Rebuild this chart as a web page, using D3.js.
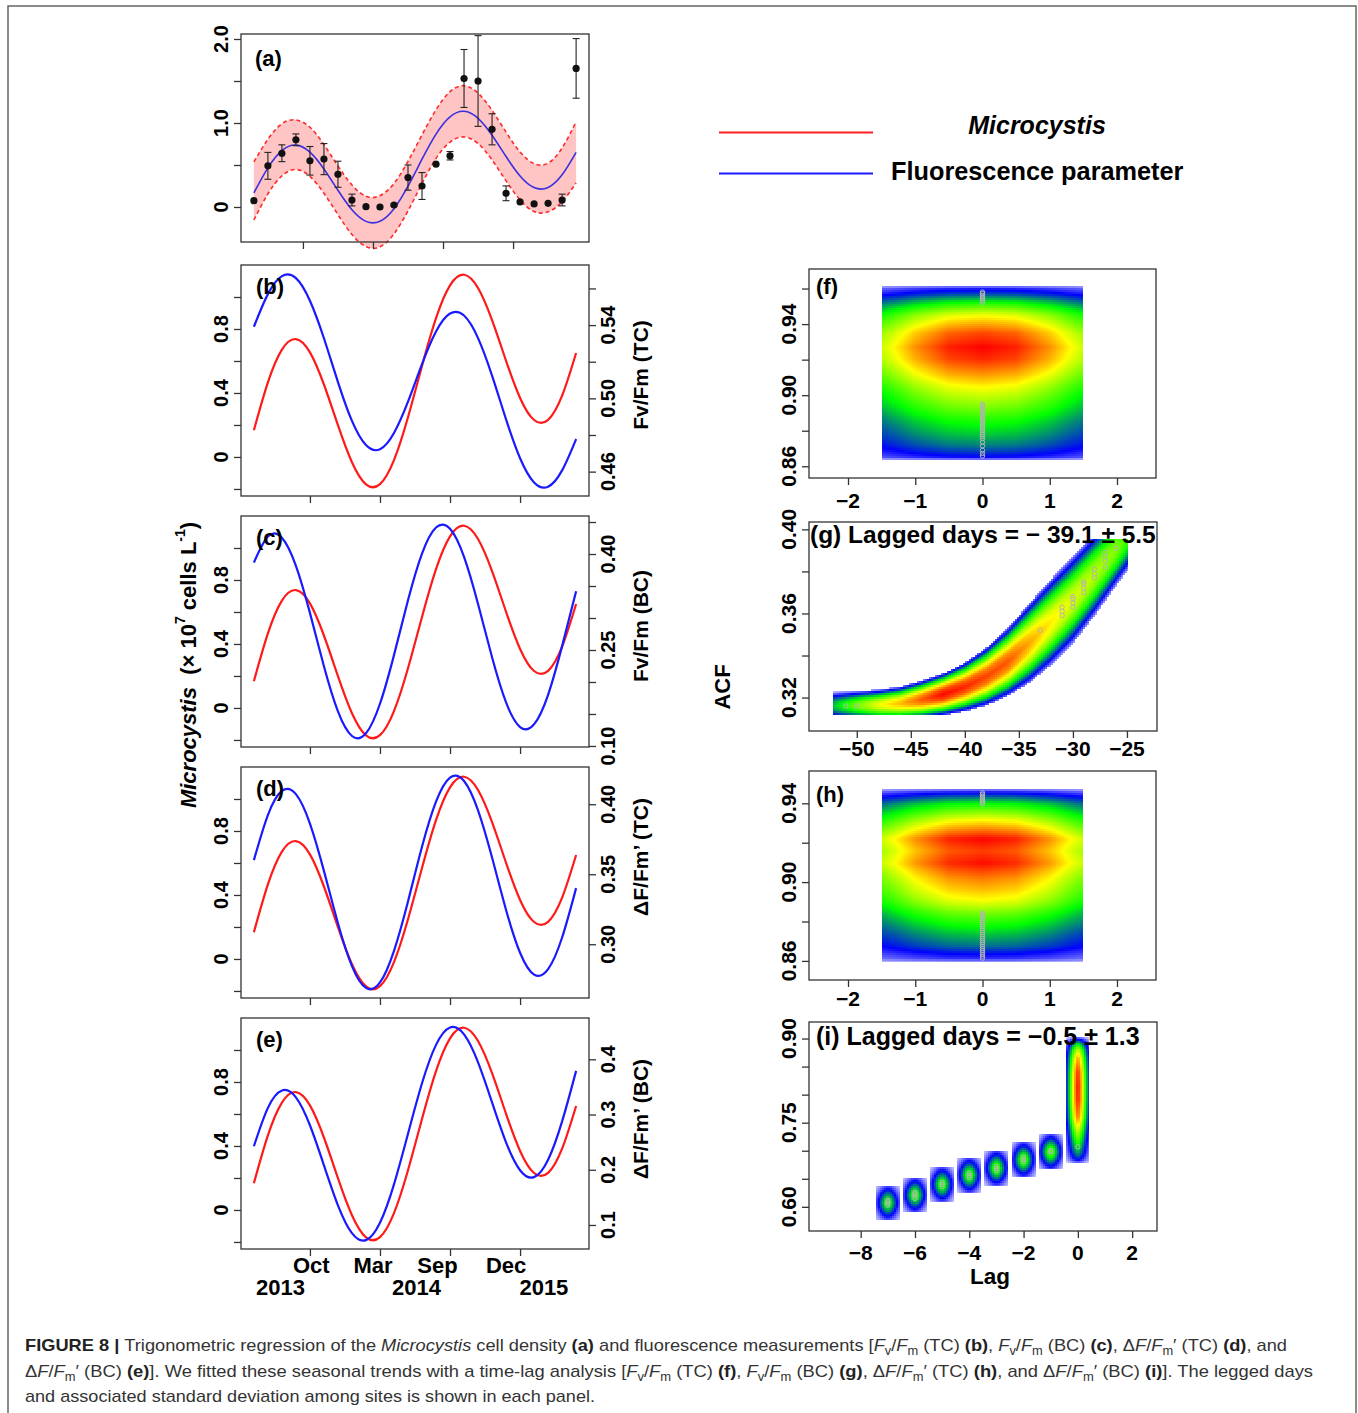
<!DOCTYPE html>
<html>
<head>
<meta charset="utf-8">
<title>Figure 8</title>
<script src="https://cdn.jsdelivr.net/npm/d3@7/dist/d3.min.js"></script>
<style>
  body { margin: 0; background: #fff; }
  svg { display: block; }
</style>
</head>
<body>
<svg id="fig" width="1358" height="1413"></svg>
<script>
// ---------------- data ----------------
// monthly sampling index
const monthIdx = [1,2,3,4,5,6,7,8,9,10,11,12,13,14,15,16,17,18,19,20,21,22,23,24];

// (a) Microcystis density (x 10^7 cells/L): observed means, sd, fitted curve and band
const cellObs = [0.075,0.49,0.64,0.80,0.55,0.57,0.39,0.083,0.004,0.0,0.024,0.35,0.25,0.51,0.61,1.53,1.50,0.925,0.163,0.06,0.036,0.044,0.083,1.65];
const cellSd  = [0,0.16,0.10,0.07,0.17,0.185,0.155,0.07,0,0,0.012,0.15,0.16,0,0.05,0.345,0.54,0.185,0.088,0,0,0,0.07,0.355];
const cellFit = [0.167,0.466,0.671,0.737,0.654,0.453,0.199,-0.033,-0.171,-0.170,-0.020,0.248,0.569,0.868,1.073,1.139,1.056,0.855,0.601,0.369,0.231,0.232,0.383,0.650];
const cellUpper = [0.537,0.806,0.991,1.037,0.949,0.743,0.489,0.262,0.129,0.135,0.280,0.543,0.859,1.158,1.373,1.444,1.356,1.150,0.891,0.654,0.516,0.522,0.703,1.015];
const cellLower = [-0.155,0.156,0.371,0.447,0.364,0.163,-0.091,-0.328,-0.471,-0.475,-0.320,-0.047,0.279,0.578,0.773,0.834,0.756,0.560,0.311,0.084,-0.054,-0.058,0.063,0.286];

// (b)-(e) fitted fluorescence parameters
const fvfmTC = [0.5391,0.5569,0.5667,0.5656,0.5533,0.5328,0.5089,0.4877,0.4745,0.4722,0.4811,0.4982,0.5187,0.5365,0.5463,0.5452,0.5329,0.5124,0.4885,0.4673,0.4541,0.4518,0.4607,0.4778];
const fvfmBC = [0.3866,0.4273,0.4254,0.3816,0.3080,0.2245,0.1540,0.1156,0.1198,0.1660,0.2420,0.3277,0.4006,0.4414,0.4395,0.3956,0.3220,0.2386,0.1680,0.1296,0.1339,0.1800,0.2560,0.3418];
const dffmTC = [0.3601,0.3923,0.4095,0.4072,0.3862,0.3524,0.3150,0.2844,0.2688,0.2727,0.2953,0.3306,0.3696,0.4018,0.4190,0.4166,0.3956,0.3619,0.3245,0.2939,0.2783,0.2822,0.3048,0.3401];
const dffmBC = [0.2426,0.3121,0.3436,0.3311,0.2806,0.2081,0.1356,0.0851,0.0726,0.1041,0.1736,0.2651,0.3566,0.4261,0.4576,0.4451,0.3946,0.3221,0.2496,0.1991,0.1866,0.2181,0.2876,0.3791];

// ticks / labels of the time-series panels
const aTicksX = [4.5, 9.5, 14.5, 19.5];
const lowTicksX = [5, 10, 15, 20];
const aTicksY = [0, 0.5, 1.0, 1.5, 2.0];
const aLabsY = [0, 1.0, 2.0];
const leftTicksY = [-0.2, 0, 0.2, 0.4, 0.6, 0.8, 1.0];
const leftLabsY = [0, 0.4, 0.8];
const rTicksB = [0.46, 0.48, 0.50, 0.52, 0.54, 0.56], rLabsB = [0.46, 0.50, 0.54];
const rTicksC = [0.10, 0.15, 0.20, 0.25, 0.30, 0.35, 0.40, 0.45], rLabsC = [0.10, 0.25, 0.40];
const rTicksD = [0.30, 0.35, 0.40], rLabsD = [0.30, 0.35, 0.40];
const rTicksE = [0.1, 0.2, 0.3, 0.4], rLabsE = [0.1, 0.2, 0.3, 0.4];
const monthLabs = ["Oct", "Mar", "Sep", "Dec"], monthPos = [5.1, 9.5, 14.1, 19.0];
const yearLabs = ["2013", "2014", "2015"], yearPos = [2.9, 12.6, 21.7];

// (f) / (h) density: lag profile and ACF profiles
const heatLagProf = [-1.5,-1.3,-1.0,-0.5,0,0.5,1.0,1.3,1.5];
const heatLagVal  = [0.70,0.76,0.86,0.97,1,0.97,0.86,0.76,0.70];
const fAcfProf = [0.8636,0.865,0.868,0.872,0.878,0.885,0.893,0.900,0.905,0.912,0.920,0.927,0.935,0.941,0.945,0.949,0.953,0.957,0.960,0.9616];
const fAcfVal  = [0.10,0.24,0.31,0.38,0.45,0.52,0.62,0.70,0.76,0.86,0.96,1.00,0.93,0.82,0.74,0.62,0.48,0.32,0.22,0.10];
const hAcfProf = [0.8596,0.861,0.864,0.8675,0.8745,0.8833,0.8903,0.8956,0.9026,0.9096,0.9158,0.9219,0.9255,0.9316,0.936,0.940,0.9435,0.9455,0.9474];
const hAcfVal  = [0.10,0.20,0.27,0.36,0.46,0.60,0.74,0.81,0.89,0.99,0.94,1.00,0.91,0.75,0.62,0.50,0.34,0.24,0.10];
const fPtAcf = [0.9522,0.9532,0.9542,0.9552,0.9562,0.9572,0.958,0.8658,0.8672,0.869,0.8715,0.8735,0.8755,0.8767,0.8778,0.8789,0.88,0.8811,0.8822,0.8833,0.8844,0.8855,0.8866,0.8877,0.8888,0.8899,0.891,0.8921,0.8932,0.8943,0.8951];
const hPtAcf = [0.9398,0.9406,0.9414,0.9422,0.943,0.9438,0.9446,0.9453,0.8614,0.8624,0.8634,0.8644,0.8654,0.8664,0.8674,0.8684,0.8694,0.8704,0.8714,0.8724,0.8734,0.8744,0.8754,0.8764,0.8774,0.8784,0.8794,0.8804,0.8814,0.8824,0.8834,0.8842];

// (g) density ribbon along lag
const gLag    = [-52.2,-50,-48,-46,-44,-42,-40,-38,-36,-34,-32,-30,-28,-26,-24.9];
const gCenter = [0.3162,0.3163,0.3165,0.3172,0.3190,0.3215,0.3250,0.3300,0.3370,0.3460,0.3560,0.3665,0.3785,0.3905,0.3965];
const gHalf   = [0.0066,0.0069,0.0073,0.0080,0.0090,0.0100,0.0116,0.0138,0.0162,0.0190,0.0205,0.0208,0.0198,0.0175,0.0160];
const gPeak   = [0.44,0.62,0.74,0.82,0.92,1.00,0.97,0.94,0.92,0.84,0.77,0.72,0.68,0.63,0.56];
const ribU = [0,0.25,0.5,0.75,1], ribK = [1,0.93,0.75,0.47,0.14];
const gPtLag = [-51,-50,-33,-31,-31,-31,-30,-30,-30,-30,-29,-29,-29,-29,-28,-28,-28,-27,-27,-27,-27,-26];
const gPtAcf = [0.316,0.316,0.352,0.359,0.361,0.363,0.363,0.365,0.367,0.368,0.370,0.372,0.374,0.375,0.377,0.379,0.381,0.382,0.385,0.387,0.389,0.391];

// (i) density blobs
const iBlobLag  = [-7,-6,-5,-4,-3,-2,-1];
const iBlobAcf  = [0.607,0.621,0.640,0.6565,0.669,0.684,0.698];
const iBlobPeak = [0.55,0.57,0.57,0.58,0.59,0.60,0.61];
const blobU = [0,0.25,0.5,0.75,1], blobK = [1,0.9,0.7,0.48,0.3];
const iTallAcf = [0.678,0.683,0.69,0.70,0.715,0.735,0.76,0.79,0.815,0.84,0.865,0.88,0.89,0.897,0.9026];
const iTallVal = [0.12,0.25,0.35,0.45,0.55,0.70,0.90,0.99,1.00,0.97,0.85,0.70,0.50,0.30,0.12];
const iTallLag = [-0.42,-0.3,-0.15,0,0.15,0.3,0.42];
const iTallLagVal = [0.28,0.5,0.8,1,0.8,0.5,0.28];
const iPtLag = [-7,-7,-7,-7,-6,-6,-6,-6,-5,-5,-5,-4,-4,-4,-3,-3,-3,-2,-2,-2,-1,-1,0];
const iPtAcf = [0.603,0.606,0.609,0.612,0.615,0.619,0.623,0.626,0.636,0.640,0.644,0.652,0.656,0.660,0.664,0.668,0.672,0.680,0.684,0.689,0.698,0.700,0.707];

const heatStops = [0, 0.25, 0.5, 0.75, 1];
const heatColors = ["#ffffff", "#0000ff", "#00ff00", "#ffff00", "#ff0000"];

// ---------------- drawing ----------------
const svg = d3.select("#fig");
const font = "'Liberation Sans', Arial, Helvetica, sans-serif";
const ink = "#333";
const heatColor = d3.scaleLinear().domain(heatStops).range(heatColors).clamp(true);

// outer frame
svg.append("rect").attr("x", 8).attr("y", 6).attr("width", 1348).attr("height", 1440)
  .attr("fill", "none").attr("stroke", "#666").attr("stroke-width", 1.5);

function box(x0, y0, x1, y1) {
  svg.append("rect").attr("x", x0).attr("y", y0).attr("width", x1 - x0).attr("height", y1 - y0)
    .attr("fill", "none").attr("stroke", ink).attr("stroke-width", 1.3);
}
function yAxis(scale, ticks, xPos, side) {
  const ax = (side === "left" ? d3.axisLeft(scale) : d3.axisRight(scale))
    .tickValues(ticks).tickSize(7).tickFormat("");
  svg.append("g").attr("transform", "translate(" + xPos + ",0)").attr("color", ink).call(ax)
    .call(g => g.select(".domain").remove())
    .call(g => g.selectAll("line").attr("stroke-width", 1.3));
}
function xAxis(scale, ticks, yPos) {
  svg.append("g").attr("transform", "translate(0," + yPos + ")").attr("color", ink)
    .call(d3.axisBottom(scale).tickValues(ticks).tickSize(7).tickFormat(""))
    .call(g => g.select(".domain").remove())
    .call(g => g.selectAll("line").attr("stroke-width", 1.3));
}
function yLabels(scale, vals, fmt, cx, size) {
  svg.append("g").selectAll("text").data(vals).join("text")
    .attr("transform", d => "translate(" + cx + "," + scale(d) + ") rotate(-90)")
    .attr("text-anchor", "middle").attr("dominant-baseline", "central")
    .attr("font-family", font).attr("font-weight", "bold").attr("font-size", size)
    .text(fmt);
}
function xLabels(scale, vals, fmt, cy, size) {
  svg.append("g").selectAll("text").data(vals).join("text")
    .attr("x", d => scale(d)).attr("y", cy)
    .attr("text-anchor", "middle").attr("dominant-baseline", "central")
    .attr("font-family", font).attr("font-weight", "bold").attr("font-size", size)
    .text(fmt);
}
function label(txt, x, y, size, anchor) {
  return svg.append("text").attr("x", x).attr("y", y)
    .attr("text-anchor", anchor || "start").attr("dominant-baseline", "central")
    .attr("font-family", font).attr("font-weight", "bold").attr("font-size", size).text(txt);
}
function rotLabel(x, y, size) {
  return svg.append("text").attr("transform", "translate(" + x + "," + y + ") rotate(-90)")
    .attr("text-anchor", "middle").attr("dominant-baseline", "central")
    .attr("font-family", font).attr("font-weight", "bold").attr("font-size", size);
}
const fmtLeft = d => d === 0 ? "0" : d3.format(".1f")(d);

// density image rendered as small cells through the panel scales
function heat(x, y, lagExt, acfExt, dens, cell) {
  const px0 = Math.round(x(lagExt[0])), px1 = Math.round(x(lagExt[1]));
  const py0 = Math.round(y(acfExt[1])), py1 = Math.round(y(acfExt[0]));
  const cells = [];
  for (let px = px0; px < px1; px += cell) {
    for (let py = py0; py < py1; py += cell) {
      const w = Math.min(cell, px1 - px), h = Math.min(cell, py1 - py);
      const d = dens(x.invert(px + w / 2), y.invert(py + h / 2));
      if (d > 0.03) cells.push({ px, py, w, h, d });
    }
  }
  svg.append("g").attr("shape-rendering", "crispEdges")
    .selectAll("rect").data(cells).join("rect")
    .attr("x", c => c.px).attr("y", c => c.py)
    .attr("width", c => c.w).attr("height", c => c.h)
    .attr("fill", c => heatColor(c.d));
}
function grayPoints(x, y, lags, acfs) {
  svg.append("g").selectAll("circle").data(acfs).join("circle")
    .attr("cx", (d, i) => x(lags[i])).attr("cy", d => y(d)).attr("r", 2.2)
    .attr("fill", "none").attr("stroke", "#b4b4b4").attr("stroke-width", 1);
}

// ---- time series panels ----
const X = d3.scaleLinear().domain([0.08, 24.92]).range([241, 589]);

// (a)
{
  const top = 34, bot = 242;
  const y = d3.scaleLinear().domain([-0.4167, 2.0595]).range([bot, top]);
  const band = d3.area().x((d, i) => X(monthIdx[i])).y0((d, i) => y(cellLower[i])).y1(d => y(d)).curve(d3.curveNatural);
  svg.append("path").attr("d", band(cellUpper)).attr("fill", "#ffc4c4");
  const ln = d3.line().x((d, i) => X(monthIdx[i])).y(d => y(d)).curve(d3.curveNatural);
  [cellUpper, cellLower].forEach(s => svg.append("path").attr("d", ln(s)).attr("fill", "none")
    .attr("stroke", "#ff2a2a").attr("stroke-width", 1.6).attr("stroke-dasharray", "4,3"));
  svg.append("path").attr("d", ln(cellFit)).attr("fill", "none").attr("stroke", "#3a30e0").attr("stroke-width", 1.6);
  const eb = svg.append("g").attr("stroke", "#222").attr("stroke-width", 1.1);
  cellObs.forEach((v, i) => {
    if (cellSd[i] <= 0) return;
    const cx = X(monthIdx[i]), y0 = y(v - cellSd[i]), y1 = y(v + cellSd[i]);
    eb.append("line").attr("x1", cx).attr("x2", cx).attr("y1", y0).attr("y2", y1);
    eb.append("line").attr("x1", cx - 3.5).attr("x2", cx + 3.5).attr("y1", y0).attr("y2", y0);
    eb.append("line").attr("x1", cx - 3.5).attr("x2", cx + 3.5).attr("y1", y1).attr("y2", y1);
  });
  svg.append("g").selectAll("circle").data(cellObs).join("circle")
    .attr("cx", (d, i) => X(monthIdx[i])).attr("cy", d => y(d)).attr("r", 3.6).attr("fill", "#111");
  box(241, top, 589, bot);
  yAxis(y, aTicksY, 241, "left");
  yLabels(y, aLabsY, fmtLeft, 221, 20);
  xAxis(X, aTicksX, bot);
  label("(a)", 255, top + 24, 22);
}

const lowerPanels = [
  { key: "(b)", top: 265, fluo: fvfmTC, rDom: [0.4467, 0.5728], rTicks: rTicksB, rLabs: rLabsB, rFmt: ".2f", title: "Fv/Fm (TC)", titleY: 375 },
  { key: "(c)", top: 516, fluo: fvfmBC, rDom: [0.0984, 0.4594], rTicks: rTicksC, rLabs: rLabsC, rFmt: ".2f", title: "Fv/Fm (BC)", titleY: 626 },
  { key: "(d)", top: 767, fluo: dffmTC, rDom: [0.2616, 0.4266], rTicks: rTicksD, rLabs: rLabsD, rFmt: ".2f", title: "\u0394F/Fm\u2019 (TC)", titleY: 857 },
  { key: "(e)", top: 1018, fluo: dffmBC, rDom: [0.0565, 0.4748], rTicks: rTicksE, rLabs: rLabsE, rFmt: ".1f", title: "\u0394F/Fm\u2019 (BC)", titleY: 1119 }
];

lowerPanels.forEach(p => {
  const top = p.top, bot = p.top + 231;
  const yL = d3.scaleLinear().domain([-0.244, 1.2]).range([bot, top]);
  const yR = d3.scaleLinear().domain(p.rDom).range([bot, top]);
  const lineL = d3.line().x((d, i) => X(monthIdx[i])).y(d => yL(d)).curve(d3.curveNatural);
  const lineR = d3.line().x((d, i) => X(monthIdx[i])).y(d => yR(d)).curve(d3.curveNatural);
  svg.append("path").attr("d", lineL(cellFit)).attr("fill", "none").attr("stroke", "#ff1a1a").attr("stroke-width", 2.2);
  svg.append("path").attr("d", lineR(p.fluo)).attr("fill", "none").attr("stroke", "#1a1aff").attr("stroke-width", 2.2);
  box(241, top, 589, bot);
  yAxis(yL, leftTicksY, 241, "left");
  yLabels(yL, leftLabsY, fmtLeft, 221, 20);
  yAxis(yR, p.rTicks, 589, "right");
  yLabels(yR, p.rLabs, d3.format(p.rFmt), 608, 20);
  xAxis(X, lowTicksX, bot);
  rotLabel(640, p.titleY, 21).text(p.title);
  label(p.key, 256, top + 21, 22);
});

// bottom time labels
xLabels(X, monthPos, (d, i) => monthLabs[i], 1265, 22);
xLabels(X, yearPos, (d, i) => yearLabs[i], 1287, 22);

// left shared y title
{
  const t = rotLabel(188, 665, 22);
  t.append("tspan").attr("font-style", "italic").text("Microcystis");
  t.append("tspan").text("\u00a0 (\u00d7 10");
  t.append("tspan").attr("font-size", 14).attr("dy", -8).text("7");
  t.append("tspan").attr("dy", 8).text(" cells L");
  t.append("tspan").attr("font-size", 14).attr("dy", -8).text("-1");
  t.append("tspan").attr("dy", 8).text(")");
}

// legend
{
  const lx = d3.scaleLinear().domain([0, 1]).range([719, 873]);
  svg.append("line").attr("x1", lx(0)).attr("x2", lx(1)).attr("y1", 132.5).attr("y2", 132.5)
    .attr("stroke", "#ff2020").attr("stroke-width", 2);
  svg.append("line").attr("x1", lx(0)).attr("x2", lx(1)).attr("y1", 173.5).attr("y2", 173.5)
    .attr("stroke", "#1a1aff").attr("stroke-width", 2.2);
  label("Microcystis", 1037, 125, 25, "middle").attr("font-style", "italic");
  label("Fluorescence parameter", 891, 171, 25.3);
}

// ---- lag / ACF panels ----
const lagProf = d3.scaleLinear().domain(heatLagProf).range(heatLagVal).clamp(true);

// (f)
{
  const x = d3.scaleLinear().domain([-2.58, 2.58]).range([809, 1156]);
  const y = d3.scaleLinear().domain([0.8534, 0.971]).range([478, 269]);
  const acfP = d3.scaleLinear().domain(fAcfProf).range(fAcfVal).clamp(true);
  heat(x, y, [-1.5, 1.5], [0.8636, 0.9616], (l, a) => lagProf(l) * acfP(a), 2);
  grayPoints(x, y, fPtAcf.map(() => 0), fPtAcf);
  box(809, 269, 1156, 478);
  yAxis(y, [0.86, 0.88, 0.90, 0.92, 0.94, 0.96], 809, "left");
  yLabels(y, [0.86, 0.90, 0.94], d3.format(".2f"), 788, 21);
  xAxis(x, [-2, -1, 0, 1, 2], 478);
  xLabels(x, [-2, -1, 0, 1, 2], d3.format("d"), 500, 21);
  label("(f)", 816, 286, 22);
}

// (g)
{
  const x = d3.scaleLinear().domain([-54.42, -22.22]).range([809, 1157]);
  const y = d3.scaleLinear().domain([0.3041, 0.4035]).range([731, 522]);
  const cS = d3.scaleLinear().domain(gLag).range(gCenter).clamp(true);
  const hS = d3.scaleLinear().domain(gLag).range(gHalf).clamp(true);
  const pS = d3.scaleLinear().domain(gLag).range(gPeak).clamp(true);
  const kS = d3.scaleLinear().domain(ribU).range(ribK).clamp(true);
  heat(x, y, [-52.2, -24.9], [0.3116, 0.3955], (l, a) => {
    const u = Math.abs(a - cS(l)) / hS(l);
    return u > 1 ? 0 : pS(l) * kS(u);
  }, 2);
  grayPoints(x, y, gPtLag, gPtAcf);
  box(809, 522, 1157, 731);
  yAxis(y, [0.32, 0.34, 0.36, 0.38, 0.40], 809, "left");
  yLabels(y, [0.32, 0.36, 0.40], d3.format(".2f"), 788, 21);
  xAxis(x, [-50, -45, -40, -35, -30, -25], 731);
  xLabels(x, [-50, -45, -40, -35, -30, -25], d3.format("d"), 748, 21);
  label("(g) Lagged days = \u2212 39.1 \u00b1 5.5", 810, 534, 24.5);
}

// (h)
{
  const x = d3.scaleLinear().domain([-2.58, 2.58]).range([809, 1156]);
  const y = d3.scaleLinear().domain([0.8503, 0.9564]).range([980, 771]);
  const acfP = d3.scaleLinear().domain(hAcfProf).range(hAcfVal).clamp(true);
  heat(x, y, [-1.5, 1.5], [0.8596, 0.9474], (l, a) => lagProf(l) * acfP(a), 2);
  grayPoints(x, y, hPtAcf.map(() => 0), hPtAcf);
  box(809, 771, 1156, 980);
  yAxis(y, [0.86, 0.88, 0.90, 0.92, 0.94], 809, "left");
  yLabels(y, [0.86, 0.90, 0.94], d3.format(".2f"), 788, 21);
  xAxis(x, [-2, -1, 0, 1, 2], 980);
  xLabels(x, [-2, -1, 0, 1, 2], d3.format("d"), 998, 21);
  label("(h)", 816, 794, 22);
}

// (i)
{
  const x = d3.scaleLinear().domain([-9.904, 2.915]).range([809, 1157]);
  const y = d3.scaleLinear().domain([0.5569, 0.9295]).range([1231, 1022]);
  const kS = d3.scaleLinear().domain(blobU).range(blobK).clamp(true);
  const halfLag = 0.44, halfAcf = 0.031;
  iBlobLag.forEach((bl, i) => {
    const ba = iBlobAcf[i], pk = iBlobPeak[i];
    heat(x, y, [bl - halfLag, bl + halfLag], [ba - halfAcf, ba + halfAcf],
      (l, a) => pk * kS(Math.abs(l - bl) / halfLag) * kS(Math.abs(a - ba) / halfAcf), 2);
  });
  const tA = d3.scaleLinear().domain(iTallAcf).range(iTallVal).clamp(true);
  const tL = d3.scaleLinear().domain(iTallLag).range(iTallLagVal).clamp(true);
  heat(x, y, [-0.42, 0.42], [0.678, 0.9026], (l, a) => tL(l) * tA(a), 2);
  grayPoints(x, y, iPtLag, iPtAcf);
  box(809, 1022, 1157, 1231);
  yAxis(y, [0.60, 0.65, 0.70, 0.75, 0.80, 0.85, 0.90], 809, "left");
  yLabels(y, [0.60, 0.75, 0.90], d3.format(".2f"), 788, 21);
  xAxis(x, [-8, -6, -4, -2, 0, 2], 1231);
  xLabels(x, [-8, -6, -4, -2, 0, 2], d3.format("d"), 1252, 21);
  label("(i) Lagged days = \u22120.5 \u00b1 1.3", 816, 1036, 25);
  label("Lag", 990, 1276, 22.5, "middle");
}

// ACF title
rotLabel(722, 687, 22).text("ACF");

// ---- caption ----
function captionLine(parts, y, len) {
  const t = svg.append("text").attr("x", 25).attr("y", y)
    .attr("font-family", font).attr("font-size", 17).attr("fill", "#333");
  if (len) t.attr("textLength", len).attr("lengthAdjust", "spacingAndGlyphs");
  let shift = 0;
  parts.forEach(([s, st]) => {
    const sp = t.append("tspan").text(s);
    if (st === "b") sp.attr("font-weight", "bold").attr("fill", "#222");
    if (st === "i") sp.attr("font-style", "italic");
    if (st === "sub") { sp.attr("font-size", 12); if (shift === 0) { sp.attr("dy", 4); shift = 4; } }
    else if (shift !== 0) { sp.attr("dy", -shift); shift = 0; }
  });
}
const FvFm = [["F", "i"], ["v", "sub"], ["/", ""], ["F", "i"], ["m", "sub"]];
const dFFm = [["\u0394", ""], ["F", "i"], ["/", ""], ["F", "i"], ["m", "sub"], ["\u2032", ""]];
captionLine([
  ["FIGURE 8 | ", "b"], ["Trigonometric regression of the ", ""], ["Microcystis", "i"],
  [" cell density ", ""], ["(a)", "b"], [" and fluorescence measurements [", ""],
  ...FvFm, [" (TC) ", ""], ["(b)", "b"], [", ", ""], ...FvFm, [" (BC) ", ""], ["(c)", "b"],
  [", ", ""], ...dFFm, [" (TC) ", ""], ["(d)", "b"], [", and", ""]
], 1351, 1262);
captionLine([
  ...dFFm, [" (BC) ", ""], ["(e)", "b"], ["]. We fitted these seasonal trends with a time-lag analysis [", ""],
  ...FvFm, [" (TC) ", ""], ["(f)", "b"], [", ", ""], ...FvFm, [" (BC) ", ""], ["(g)", "b"], [", ", ""],
  ...dFFm, [" (TC) ", ""], ["(h)", "b"], [", and ", ""], ...dFFm, [" (BC) ", ""], ["(i)", "b"],
  ["]. The legged days", ""]
], 1377, 1288);
captionLine([["and associated standard deviation among sites is shown in each panel.", ""]], 1402, 570);
</script>
</body>
</html>
